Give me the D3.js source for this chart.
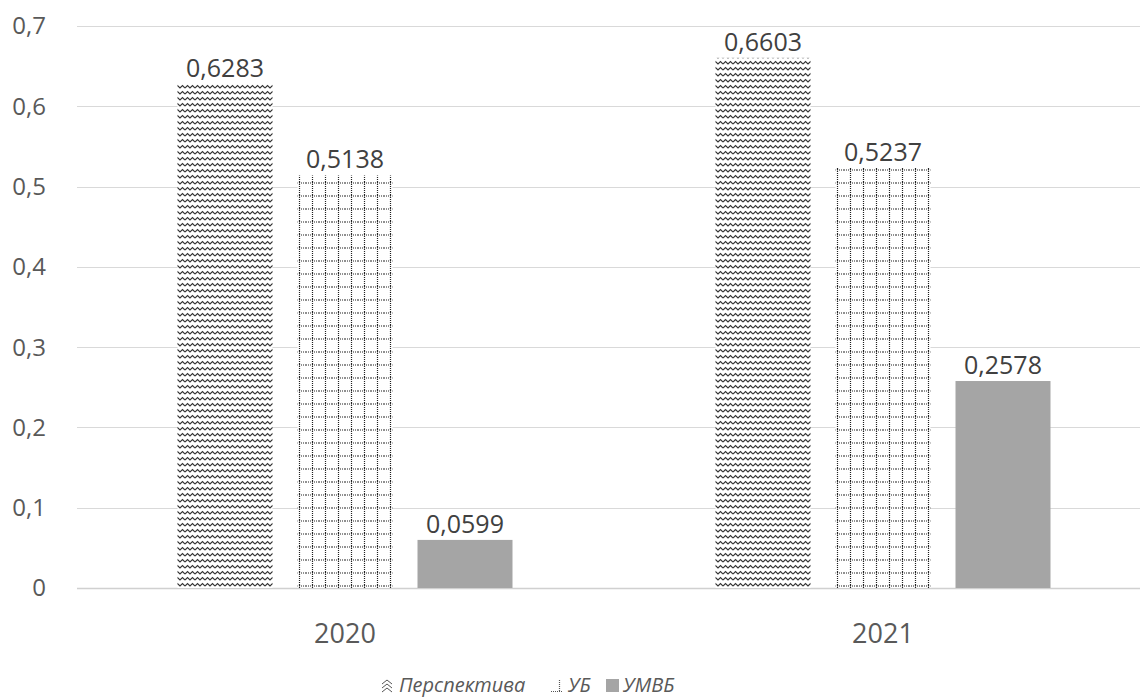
<!DOCTYPE html>
<html>
<head>
<meta charset="utf-8">
<script src="https://cdn.jsdelivr.net/npm/d3@7"></script>
<style>
  body { margin: 0; background: #fff; }
  svg { font-family: "Open Sans", "Noto Sans", sans-serif; }
</style>
</head>
<body>
<div id="chart"></div>
<script>
// data
var years = ["2020", "2021"];
var seriesNames = ["Перспектива", "УБ", "УМВБ"];
var perspektiva = [0.6283, 0.6603];
var ub = [0.5138, 0.5237];
var umvb = [0.0599, 0.2578];
var yTicks = [0, 0.1, 0.2, 0.3, 0.4, 0.5, 0.6, 0.7];

var values = [perspektiva, ub, umvb];
var fmt = function(v){ return String(v).replace(".", ","); };

var W = 1140, H = 700;
var svg = d3.select("#chart").append("svg")
  .attr("width", W).attr("height", H);

// patterns
var defs = svg.append("defs");
var wave = defs.append("pattern")
  .attr("id", "pat-wave").attr("patternUnits", "userSpaceOnUse")
  .attr("width", 10).attr("height", 6);
wave.append("rect").attr("width", 10).attr("height", 6).attr("fill", "#fff");
wave.append("path")
  .attr("d", "M0,4 L2.5,1.5 L5,4 L7.5,1.5 L10,4")
  .attr("fill", "none").attr("stroke", "#333").attr("stroke-width", 1.1);

var grid = defs.append("pattern")
  .attr("id", "pat-grid").attr("patternUnits", "userSpaceOnUse")
  .attr("width", 13).attr("height", 13);
grid.append("rect").attr("width", 13).attr("height", 13).attr("fill", "#fff");
grid.append("path").attr("d", "M0,1 H13")
  .attr("stroke", "#222").attr("stroke-width", 1.2).attr("stroke-dasharray", "1,1");
grid.append("path").attr("d", "M6.5,0 V13")
  .attr("stroke", "#222").attr("stroke-width", 1.2).attr("stroke-dasharray", "1,1");

var fills = ["url(#pat-wave)", "url(#pat-grid)", "#a5a5a5"];

var x = d3.scaleBand().domain(years).range([76, 1152]);
var y = d3.scaleLinear().domain([0, 0.7]).range([588, 26]);
var barW = 95, barGap = 25;
var inner = d3.scaleBand().domain(d3.range(3))
  .range([-(3 * barW + 2 * barGap) / 2, (3 * barW + 2 * barGap) / 2])
  .paddingInner(barGap / (barW + barGap));

// gridlines
svg.append("g").selectAll("line")
  .data(yTicks).enter().append("line")
  .attr("x1", 77).attr("x2", W)
  .attr("y1", function(d){ return Math.round(y(d)) + 0.5; })
  .attr("y2", function(d){ return Math.round(y(d)) + 0.5; })
  .attr("stroke", function(d){ return d === 0 ? "#d0d0d0" : "#d9d9d9"; })
  .attr("stroke-width", function(d){ return d === 0 ? 1.5 : 1; });

// y tick labels
svg.append("g").selectAll("text")
  .data(yTicks).enter().append("text")
  .attr("x", 46).attr("y", function(d){ return y(d); })
  .attr("dy", "0.35em").attr("text-anchor", "end")
  .attr("fill", "#595959").attr("font-size", 24)
  .text(fmt);

// bars
var groups = svg.append("g").selectAll("g")
  .data(years).enter().append("g")
  .attr("transform", function(d){ return "translate(" + (x(d) + x.bandwidth() / 2) + ",0)"; });

groups.each(function(yr, i){
  var g = d3.select(this);
  values.forEach(function(arr, s){
    g.append("rect")
      .attr("x", inner(s)).attr("width", inner.bandwidth())
      .attr("y", y(arr[i])).attr("height", y(0) - y(arr[i]))
      .attr("fill", fills[s]);
    g.append("text")
      .attr("x", inner(s) + inner.bandwidth() / 2)
      .attr("y", y(arr[i]) - 7)
      .attr("text-anchor", "middle")
      .attr("fill", "#404040").attr("font-size", 25)
      .text(fmt(arr[i]));
  });
});

// category labels
svg.append("g").selectAll("text")
  .data(years).enter().append("text")
  .attr("x", function(d){ return x(d) + x.bandwidth() / 2; })
  .attr("y", 643).attr("text-anchor", "middle")
  .attr("fill", "#595959").attr("font-size", 27)
  .text(function(d){ return d; });

// legend
var leg = svg.append("g").attr("font-size", 20).attr("font-style", "italic").attr("fill", "#595959");
var legX = [382, 551, 606];
seriesNames.forEach(function(name, s){
  var lx = legX[s];
  if (s === 0) {
    leg.append("path")
      .attr("d", "M" + lx + "," + 684 + " l5,-4 l5,4 M" + lx + "," + 688 + " l5,-4 l5,4 M" + lx + "," + 692 + " l5,-4 l5,4")
      .attr("fill", "none").attr("stroke", "#555").attr("stroke-width", 1);
  } else if (s === 1) {
    leg.append("path")
      .attr("d", "M" + lx + "," + 691.5 + " h12 M" + (lx + 8.5) + ",680 v12")
      .attr("fill", "none").attr("stroke", "#555").attr("stroke-width", 1.2)
      .attr("stroke-dasharray", "1,1");
  } else {
    leg.append("rect").attr("x", lx).attr("y", 679).attr("width", 13).attr("height", 13)
      .attr("fill", "#a5a5a5");
  }
  leg.append("text").attr("x", lx + 17).attr("y", 692).text(name);
});
</script>
</body>
</html>
